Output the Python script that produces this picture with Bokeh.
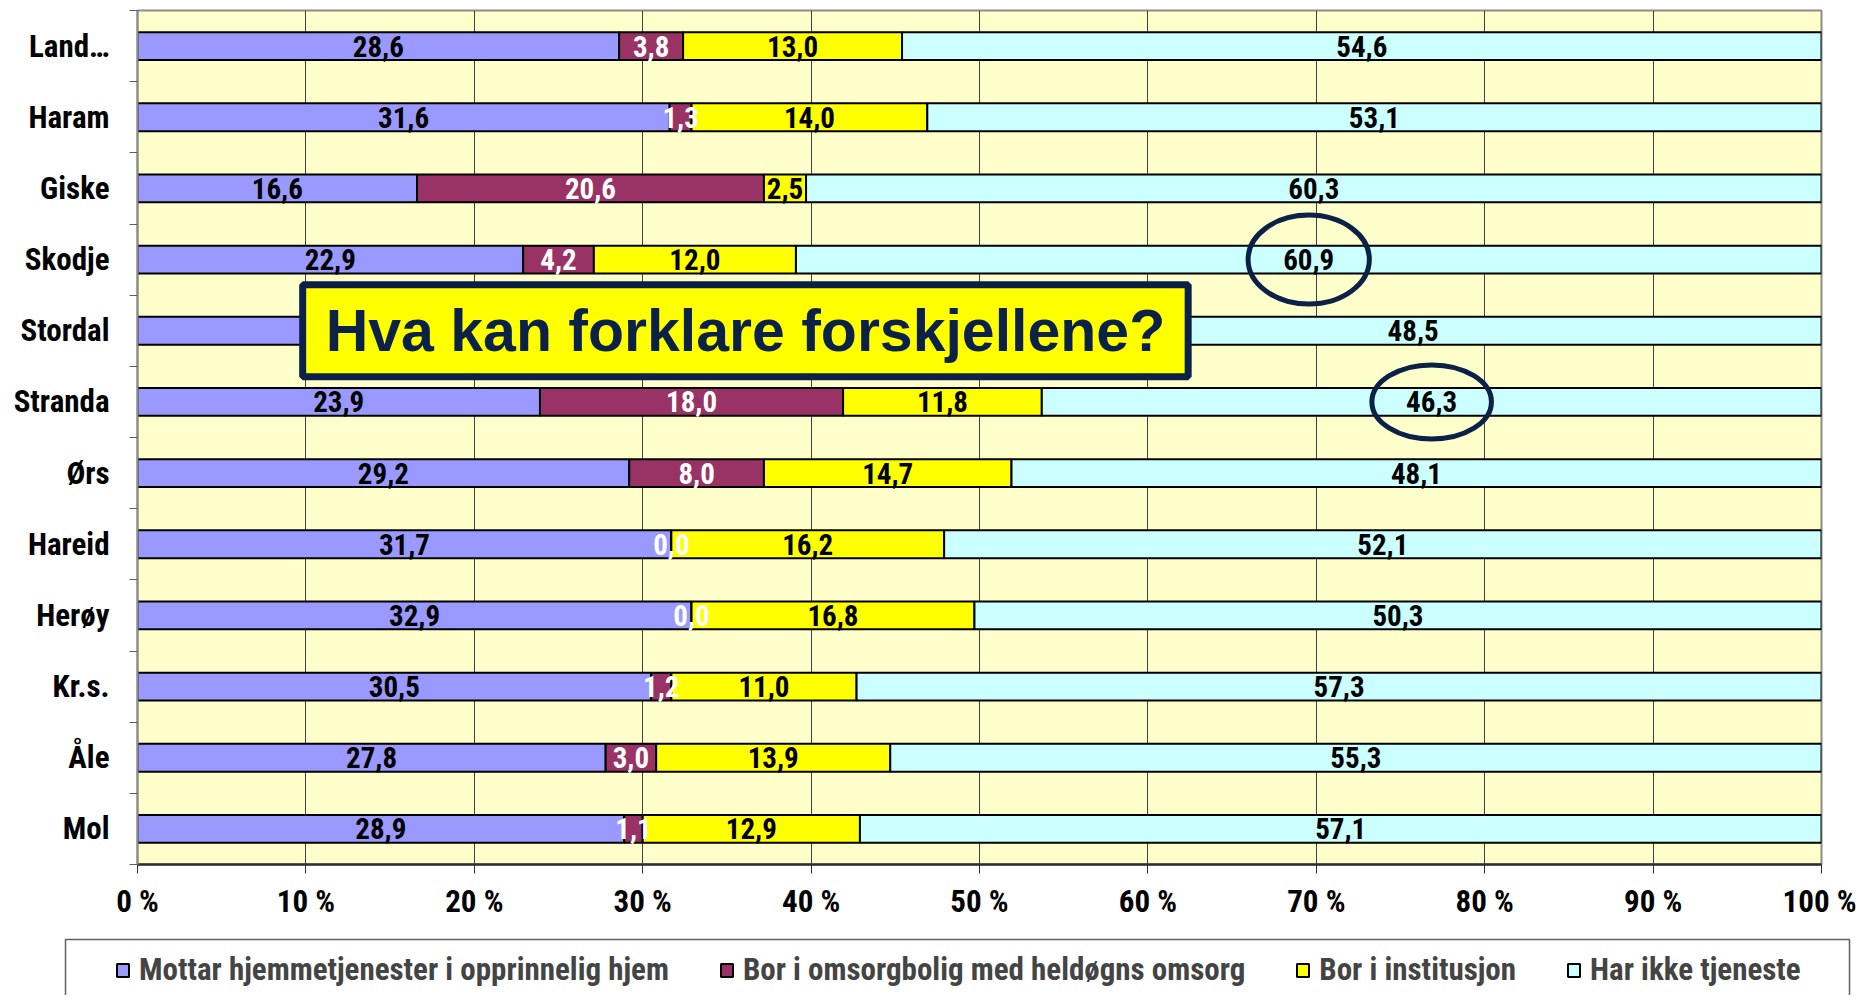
from bokeh.plotting import figure
from bokeh.layouts import column
from bokeh.models import (ColumnDataSource, Range1d, LinearAxis,
                          FixedTicker, Legend, LegendItem, Label)
from bokeh.core.properties import value
from bokeh.embed import file_html
from bokeh.resources import INLINE

# ---------------- data ----------------
categories = ["Land…", "Haram", "Giske", "Skodje", "Stordal", "Stranda", "Ørs",
              "Hareid", "Herøy", "Kr.s.", "Åle", "Mol"]
hjemme = [28.6, 31.6, 16.6, 22.9, 28.0, 23.9, 29.2, 31.7, 32.9, 30.5, 27.8, 28.9]
omsorgbolig = [3.8, 1.3, 20.6, 4.2, 8.5, 18.0, 8.0, 0.0, 0.0, 1.2, 3.0, 1.1]
institusjon = [13.0, 14.0, 2.5, 12.0, 15.0, 11.8, 14.7, 16.2, 16.8, 11.0, 13.9, 12.9]
ikke = [54.6, 53.1, 60.3, 60.9, 48.5, 46.3, 48.1, 52.1, 50.3, 57.3, 55.3, 57.1]
series_names = ["Mottar hjemmetjenester i opprinnelig hjem",
                "Bor i omsorgbolig med heldøgns omsorg",
                "Bor i institusjon",
                "Har ikke tjeneste"]
x_ticks = [0, 10, 20, 30, 40, 50, 60, 70, 80, 90, 100]
x_tick_labels = ["0 %", "10 %", "20 %", "30 %", "40 %", "50 %", "60 %", "70 %", "80 %", "90 %", "100 %"]
callout_text = "Hva kan forklare forskjellene?"
highlighted = ["Skodje", "Stranda"]

# ---------------- styles ----------------
colors = ["#9999FF", "#993366", "#FFFF00", "#CCFFFF"]
label_colors = ["black", "white", "black", "black"]
FONT = "Roboto Condensed"
BOXFONT = "Liberation Sans"
NAVY = "#0C2147"
W = 1856

n = len(categories)
ypos = [n - i - 0.5 for i in range(n)]   # first category at the top

keys = ["s0", "s1", "s2", "s3"]
series = [hjemme, omsorgbolig, institusjon, ikke]
data = {"y": ypos}
for k, s in zip(keys, series):
    data[k] = s
source = ColumnDataSource(data)

p = figure(width=W, height=926, output_backend="svg", toolbar_location=None,
           y_range=Range1d(0, n), x_range=Range1d(0, 100), y_axis_location=None,
           min_border_left=137, min_border_right=35, min_border_top=10, min_border_bottom=62,
           background_fill_color="#FFFFCC", border_fill_color="white",
           outline_line_color="#8C8C8C", outline_line_width=2)
p.frame_align = False

p.xgrid.ticker = FixedTicker(ticks=x_ticks)
p.xgrid.grid_line_color = "#404040"
p.xgrid.grid_line_width = 1
p.ygrid.grid_line_color = None

renderers = p.hbar_stack(keys, y="y", height=0.39, color=colors, source=source,
                         line_color="black", line_width=2)

# value labels
lx, ly, lt, lc = [], [], [], []
for i in range(n):
    start = 0.0
    for j, s in enumerate(series):
        v = s[i]
        lx.append(start + v / 2.0)
        ly.append(ypos[i])
        lt.append(f"{v:.1f}".replace(".", ","))
        lc.append(label_colors[j])
        start += v
lab_src = ColumnDataSource(dict(x=lx, y=ly, t=lt, c=lc))
p.text(x="x", y="y", text="t", text_color="c", source=lab_src,
       text_align="center", text_baseline="middle",
       text_font=value(FONT), text_font_size="29px", text_font_style="bold")

# ellipses around highlighted values
ex, ey = [], []
for c in highlighted:
    i = categories.index(c)
    start = hjemme[i] + omsorgbolig[i] + institusjon[i]
    ex.append(start + ikke[i] / 2.0)
    ey.append(ypos[i])
p.ellipse(x=ex, y=ey, width=[7.2, 7.1], height=[1.25, 1.04],
          fill_color=None, line_color=NAVY, line_width=5)

# callout box
callout = Label(x=36.1, y=ypos[categories.index("Stordal")],
                text=callout_text, text_align="center", text_baseline="middle",
                text_font=BOXFONT, text_font_size="59px", text_font_style="bold",
                text_color=NAVY, background_fill_color="#FFFF00",
                border_line_color=NAVY, border_line_width=7, padding=(23, 13))
p.add_layout(callout)

# x axis
xa = p.xaxis[0]
xa.ticker = FixedTicker(ticks=x_ticks)
xa.major_label_overrides = {t: l for t, l in zip(x_ticks, x_tick_labels)}
xa.major_label_text_font = FONT
xa.major_label_text_font_size = "31px"
xa.major_label_text_font_style = "bold"
xa.major_label_text_color = "black"
xa.axis_line_color = "#303030"
xa.axis_line_width = 2.5
xa.major_tick_line_color = "#303030"
xa.major_tick_out = 9
xa.major_tick_in = 0
xa.minor_tick_line_color = None
xa.major_label_standoff = 9

# y axis: boundary ticks + category labels
bticks = list(range(n + 1))
tick_axis = LinearAxis(ticker=FixedTicker(ticks=bticks),
                       major_label_overrides={t: "" for t in bticks}, major_label_standoff=0,
                       axis_line_color="#8C8C8C", axis_line_width=2,
                       major_tick_line_color="#606060", major_tick_out=8, major_tick_in=0,
                       minor_tick_line_color=None)
p.add_layout(tick_axis, "left")
cat_axis = LinearAxis(ticker=FixedTicker(ticks=ypos),
                      major_label_overrides={y: c for y, c in zip(ypos, categories)},
                      axis_line_color=None, major_tick_line_color=None, minor_tick_line_color=None,
                      major_label_standoff=14, major_label_text_font=FONT,
                      major_label_text_font_size="31px", major_label_text_font_style="bold",
                      major_label_text_color="black")
p.add_layout(cat_axis, "left")

# legend strip (separate figure below the chart, pixel coordinates)
H2 = 69
p2 = figure(width=W, height=H2, output_backend="svg", toolbar_location=None,
            x_range=Range1d(0, W), y_range=Range1d(0, H2),
            x_axis_location=None, y_axis_location=None,
            min_border_left=0, min_border_right=0, min_border_top=0, min_border_bottom=0,
            outline_line_color=None, background_fill_color="white", border_fill_color="white")
p2.frame_align = False
p2.xgrid.grid_line_color = None
p2.ygrid.grid_line_color = None
p2.quad(left=65, right=1849, top=H2 - 13, bottom=-20, fill_color=None,
        line_color="#606060", line_width=1.5)
nan = float("nan")
proxies = [p2.hbar(y=[nan], left=[nan], right=[nan], height=0.5, fill_color=c,
                   line_color="black", line_width=2)
           for c in colors]
legend = Legend(items=[LegendItem(label=nm, renderers=[r]) for nm, r in zip(series_names, proxies)],
                orientation="horizontal", location=(115, 7),
                label_text_font=FONT, label_text_font_size="31px", label_text_font_style="bold",
                glyph_width=15, glyph_height=16, label_standoff=9, spacing=50, padding=15,
                border_line_color=None, background_fill_color=None,
                label_height=30, margin=0)
p2.add_layout(legend, "center")

open("out.html", "w").write(file_html(column(p, p2, spacing=0), INLINE))
